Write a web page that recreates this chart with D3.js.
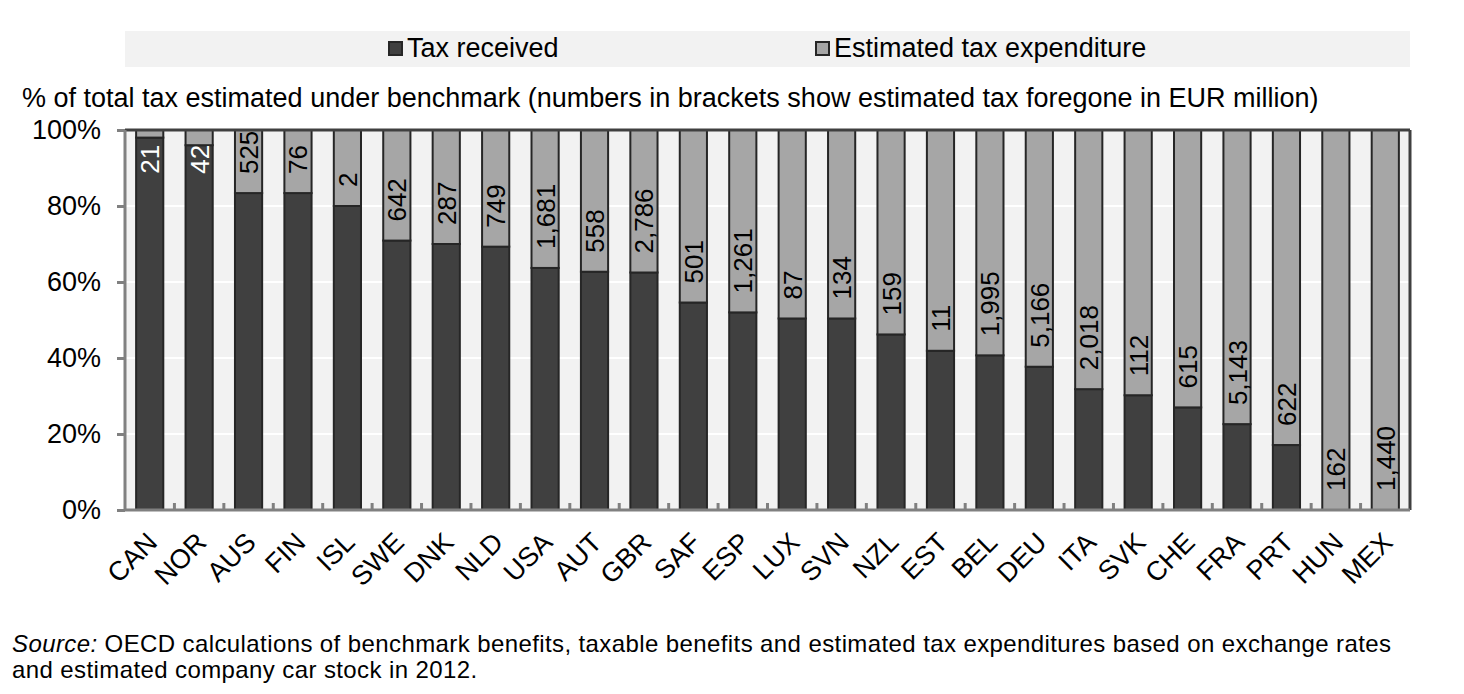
<!DOCTYPE html>
<html><head><meta charset="utf-8">
<script src="https://cdn.jsdelivr.net/npm/d3@7"></script>
<style>
body{margin:0;background:#fff;}
svg{font-family:"Liberation Sans",Arial,sans-serif;}
</style></head>
<body><svg id="c" width="1464" height="694"></svg>
<script>
const categories = ["CAN","NOR","AUS","FIN","ISL","SWE","DNK","NLD","USA","AUT","GBR","SAF","ESP","LUX","SVN","NZL","EST","BEL","DEU","ITA","SVK","CHE","FRA","PRT","HUN","MEX"];
const taxReceived = [98,96,83.4,83.4,80,70.9,70,69.3,63.7,62.7,62.5,54.6,52,50.4,50.4,46.2,41.9,40.7,37.7,31.8,30.2,27,22.6,17.1,0,0];
const taxExpenditure = taxReceived.map(v => 100 - v);
const foregone = [21,42,525,76,2,642,287,749,1681,558,2786,501,1261,87,134,159,11,1995,5166,2018,112,615,5143,622,162,1440];
const yTicks = [0,20,40,60,80,100];
const seriesNames = ["Tax received","Estimated tax expenditure"];
const colors = ["#404040","#a6a6a6"];

const svg = d3.select("#c");
const L = 125, R = 1410, T = 130, B = 510;
const x = d3.scaleBand().domain(categories).range([L,R]).paddingInner(0.45).paddingOuter(0.225);
const y = d3.scaleLinear().domain([0,100]).range([B,T]);

// plot background
svg.append("rect").attr("x",L).attr("y",T).attr("width",R-L).attr("height",B-T).attr("fill","#f2f2f2");
// gridlines
svg.append("g").selectAll("line").data(yTicks.slice(1,-1)).join("line")
  .attr("x1",L).attr("x2",R).attr("y1",d=>y(d)).attr("y2",d=>y(d))
  .attr("stroke","#ffffff").attr("stroke-width",2);

// legend
svg.append("rect").attr("x",L).attr("y",31).attr("width",R-L).attr("height",36).attr("fill","#f2f2f2");
const legX = [388, 815];
seriesNames.forEach((n,i)=>{
  svg.append("rect").attr("x",legX[i]+1).attr("y",42).attr("width",13).attr("height",13)
    .attr("fill",colors[i]).attr("stroke","#262626").attr("stroke-width",2);
  svg.append("text").attr("x",legX[i]+19).attr("y",57).attr("font-size",27).attr("fill","#000").text(n);
});

// title
svg.append("text").attr("x",22).attr("y",107).attr("font-size",27).attr("fill","#000")
  .text("% of total tax estimated under benchmark (numbers in brackets show estimated tax foregone in EUR million)");

// bars
const g = svg.append("g");
categories.forEach((c,i)=>{
  const xb = x(c), w = x.bandwidth();
  if (taxReceived[i] > 0)
    g.append("rect").attr("x",xb).attr("y",y(taxReceived[i])).attr("width",w).attr("height",y(0)-y(taxReceived[i]))
      .attr("fill",colors[0]).attr("stroke","#262626").attr("stroke-width",2);
  g.append("rect").attr("x",xb).attr("y",y(100)).attr("width",w).attr("height",y(taxReceived[i])-y(100))
    .attr("fill",colors[1]).attr("stroke","#262626").attr("stroke-width",2);
});

// frame top & right
svg.append("line").attr("x1",L).attr("x2",R).attr("y1",T).attr("y2",T).attr("stroke","#404040").attr("stroke-width",3);
svg.append("line").attr("x1",R).attr("x2",R).attr("y1",T).attr("y2",B).attr("stroke","#404040").attr("stroke-width",3);

// labels
const fmt = d3.format(",");
categories.forEach((c,i)=>{
  const cx = x(c) + x.bandwidth()/2;
  let yb = Math.max(y(taxReceived[i]) - 19, y(88.5));
  const inDark = yb > y(taxReceived[i]);
  svg.append("text").attr("transform",`translate(${cx+9.5},${yb}) rotate(-90)`)
    .attr("font-size",26).attr("fill", inDark ? "#ffffff" : "#000").attr("text-anchor","start")
    .text(fmt(foregone[i]));
});

// y axis
const ya = svg.append("g").attr("transform",`translate(${L},0)`)
  .call(d3.axisLeft(y).tickValues(yTicks).tickFormat(d=>d+"%").tickSize(8).tickPadding(16));
ya.select(".domain").attr("stroke","#808080").attr("stroke-width",3).attr("d",`M0,${B}V${T}`);
ya.selectAll(".tick line").attr("stroke","#808080").attr("stroke-width",3);
ya.selectAll(".tick text").attr("font-size",27).attr("fill","#000").attr("font-family","Liberation Sans, Arial, sans-serif");

// x axis
const xa = svg.append("g").attr("transform",`translate(0,${B})`)
  .call(d3.axisBottom(x).tickSize(0).tickPadding(0));
xa.select(".domain").attr("stroke","#808080").attr("stroke-width",3).attr("d",`M${L},0H${R}`);
xa.selectAll(".tick text").attr("font-size",27).attr("fill","#000").attr("font-family","Liberation Sans, Arial, sans-serif")
  .attr("text-anchor","end").attr("dy",null).attr("y",0).attr("x",0)
  .attr("transform","translate(9,34) rotate(-45)");
// minor ticks at band boundaries
const step = x.step();
xa.append("g").selectAll("line").data(categories.slice(1)).join("line")
  .attr("x1",d=>x(d)-step*x.paddingInner()/2).attr("x2",d=>x(d)-step*x.paddingInner()/2)
  .attr("y1",0).attr("y2",-7).attr("stroke","#808080").attr("stroke-width",3);

// source
const s = svg.append("text").attr("x",12).attr("y",652).attr("font-size",24).attr("letter-spacing",0.4).attr("fill","#000");
s.append("tspan").attr("font-style","italic").text("Source:");
s.append("tspan").text(" OECD calculations of benchmark benefits, taxable benefits and estimated tax expenditures based on exchange rates");
svg.append("text").attr("x",12).attr("y",678).attr("font-size",24).attr("letter-spacing",0.4).attr("fill","#000")
  .text("and estimated company car stock in 2012.");
</script></body></html>
